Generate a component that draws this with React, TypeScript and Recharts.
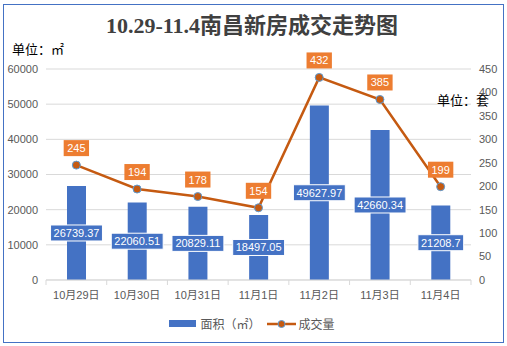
import React from "react";
import {
  ComposedChart,
  Bar,
  Line,
  XAxis,
  YAxis,
  CartesianGrid,
  LabelList,
} from "recharts";

const days = ["10月29日", "10月30日", "10月31日", "11月1日", "11月2日", "11月3日", "11月4日"];
const areas = [26739.37, 22060.51, 20829.11, 18497.05, 49627.97, 42660.34, 21208.7];
const deals = [245, 194, 178, 154, 432, 385, 199];
const leftTicks = [0, 10000, 20000, 30000, 40000, 50000, 60000];
const rightTicks = [0, 50, 100, 150, 200, 250, 300, 350, 400, 450];

const data = days.map((day, i) => ({ day, area: areas[i], deal: deals[i] }));

const BLUE = "#4472C4";
const ORANGE = "#ED7D31";
const LINE = "#C55A11";
const FONT = '"Liberation Sans", "Noto Sans CJK SC", sans-serif';

// rough text width at 11px Liberation Sans
const textWidth = (s: string) =>
  s.split("").reduce((w, c) => w + (c === "." ? 3.06 : 6.12), 0);

const BarLabel = (props: any) => {
  const { x, y, width, height, value } = props;
  const s = String(value);
  const w = textWidth(s) + 6;
  const cx = x + width / 2;
  const cy = y + height / 2;
  return (
    <g>
      <rect x={cx - w / 2} y={cy - 8} width={w} height={16} fill={BLUE} stroke="#fff" strokeWidth={1} />
      <text x={cx} y={cy + 4} textAnchor="middle" fill="#fff" fontSize={11} fontFamily={FONT}>
        {s}
      </text>
    </g>
  );
};

const LineLabel = (props: any) => {
  const { x, y, value } = props;
  const s = String(value);
  const w = textWidth(s) + 7;
  const cy = y - 17;
  return (
    <g>
      <rect x={x - w / 2} y={cy - 8} width={w} height={16} fill={ORANGE} />
      <text x={x} y={cy + 4} textAnchor="middle" fill="#fff" fontSize={11} fontFamily={FONT}>
        {s}
      </text>
    </g>
  );
};

const DayTick = (props: any) => {
  const { x, y, payload, index, width } = props;
  const half = width / days.length / 2;
  return (
    <g>
      <line x1={x - half} y1={y - 8} x2={x - half} y2={y - 3} stroke="#D9D9D9" />
      {index === days.length - 1 && (
        <line x1={x + half} y1={y - 8} x2={x + half} y2={y - 3} stroke="#D9D9D9" />
      )}
      <text x={x} y={y + 11} textAnchor="middle" fill="#595959" fontSize={11} fontFamily={FONT}>
        {payload.value}
      </text>
    </g>
  );
};

export default function App() {
  return (
    <div
      style={{
        position: "absolute",
        left: 0,
        top: 0,
        width: 507,
        height: 346,
        background: "#fff",
        fontFamily: FONT,
      }}
    >
      <div
        style={{
          position: "absolute",
          left: 3,
          top: 4,
          width: 499,
          height: 337,
          border: `1px solid ${BLUE}`,
        }}
      />
      <div
        style={{
          position: "absolute",
          left: 0,
          width: 504,
          top: 13,
          textAlign: "center",
          fontFamily: '"Liberation Serif", "Noto Sans CJK SC", serif',
          fontWeight: "bold",
          fontSize: 22,
          lineHeight: "26px",
          color: "#404040",
        }}
      >
        10.29-11.4南昌新房成交走势图
      </div>
      <div style={{ position: "absolute", left: 12, top: 42, fontSize: 13, lineHeight: "16px", color: "#000" }}>
        单位：㎡
      </div>
      <ComposedChart
        width={507}
        height={346}
        data={data}
        margin={{ top: 69, right: 0, left: 0, bottom: 36 }}
        style={{ position: "absolute", left: 0, top: 0 }}
      >
        <CartesianGrid yAxisId="left" vertical={false} stroke="#D9D9D9" />
        <XAxis
          dataKey="day"
          height={30}
          axisLine={{ stroke: "#D9D9D9" }}
          tickLine={false}
          tick={<DayTick />}
          interval={0}
        />
        <YAxis
          yAxisId="left"
          width={46}
          domain={[0, 60000]}
          ticks={leftTicks}
          axisLine={false}
          tickLine={false}
          tick={{ fill: "#595959", fontSize: 11, fontFamily: FONT }}
        />
        <YAxis
          yAxisId="right"
          orientation="right"
          width={36}
          domain={[0, 450]}
          ticks={rightTicks}
          axisLine={false}
          tickLine={false}
          tick={{ fill: "#595959", fontSize: 11, fontFamily: FONT }}
        />
        <Bar yAxisId="left" dataKey="area" fill={BLUE} barSize={19} isAnimationActive={false}>
          <LabelList dataKey="area" content={<BarLabel />} />
        </Bar>
        <Line
          yAxisId="right"
          dataKey="deal"
          type="linear"
          stroke={LINE}
          strokeWidth={2.5}
          dot={{ r: 4, fill: LINE, stroke: "#5B9BD5", strokeWidth: 1 }}
          isAnimationActive={false}
        >
          <LabelList dataKey="deal" content={<LineLabel />} />
        </Line>
      </ComposedChart>
      <div style={{ position: "absolute", left: 437, top: 93, fontSize: 13, lineHeight: "16px", color: "#000" }}>
        单位：套
      </div>
      <div
        style={{
          position: "absolute",
          left: 0,
          width: 504,
          top: 315,
          display: "flex",
          justifyContent: "center",
          alignItems: "center",
          fontSize: 12,
          color: "#595959",
        }}
      >
        <span style={{ display: "inline-block", width: 27, height: 7, background: BLUE, marginRight: 4 }} />
        <span style={{ marginRight: 6 }}>面积（㎡）</span>
        <svg width={29} height={10} style={{ marginRight: 3 }}>
          <line x1={0} y1={5} x2={29} y2={5} stroke={LINE} strokeWidth={2.5} />
          <circle cx={14.5} cy={5} r={3.5} fill={LINE} stroke="#5B9BD5" strokeWidth={1} />
        </svg>
        <span>成交量</span>
      </div>
    </div>
  );
}
